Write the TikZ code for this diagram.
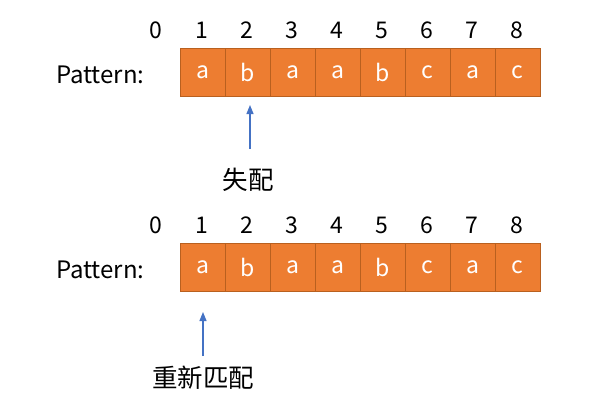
\documentclass[tikz,border=0pt]{standalone}
\usepackage{fontspec}
\setmainfont{Noto Sans CJK SC}
\usepackage{xcolor}
\usetikzlibrary{arrows.meta}
\definecolor{cellfill}{HTML}{ED7D31}
\definecolor{celledge}{HTML}{B9601F}
\definecolor{arrowblue}{HTML}{4472C4}

\tikzset{
  cell/.style={draw=celledge,fill=cellfill,text=white,minimum width=45pt,minimum height=48pt,inner sep=0pt,font=\fontsize{23}{23}\selectfont},
  idx/.style={font=\fontsize{23}{23}\selectfont},
  lbl/.style={font=\fontsize{24}{24}\selectfont,anchor=east},
  note/.style={font=\fontsize{25.5}{25.5}\selectfont},
  pointer/.style={arrowblue,line width=1.2pt,-{Triangle[length=9pt,width=7pt]}}
}

\begin{document}
\begin{tikzpicture}[x=1pt,y=-1pt]
        \useasboundingbox (0,0) rectangle (604,405);
        % first pattern
        \node[lbl] (pat1) at (148,75) {Pattern:};
        \node[idx] (i0) at (156,30) {0};
        \node[idx] (i1) at (202,30) {1};
        \node[idx] (i2) at (247,30) {2};
        \node[idx] (i3) at (292,30) {3};
        \node[idx] (i4) at (337,30) {4};
        \node[idx] (i5) at (382,30) {5};
        \node[idx] (i6) at (427,30) {6};
        \node[idx] (i7) at (472,30) {7};
        \node[idx] (i8) at (517,30) {8};
        \node[cell] (c1) at (202.5,72) {a};
        \node[cell] (c2) at (247.5,72) {b};
        \node[cell] (c3) at (292.5,72) {a};
        \node[cell] (c4) at (337.5,72) {a};
        \node[cell] (c5) at (382.5,72) {b};
        \node[cell] (c6) at (427.5,72) {c};
        \node[cell] (c7) at (472.5,72) {a};
        \node[cell] (c8) at (517.5,72) {c};
        \node[note] (miss) at (248,180) {失配};
        \coordinate (misstail) at (250,149);
        \coordinate (misstip) at (250,105);
        \draw[pointer] (misstail) -- (misstip);
        % second pattern
        \node[lbl] (pat2) at (148,270) {Pattern:};
        \node[idx] (j0) at (156,225) {0};
        \node[idx] (j1) at (202,225) {1};
        \node[idx] (j2) at (247,225) {2};
        \node[idx] (j3) at (292,225) {3};
        \node[idx] (j4) at (337,225) {4};
        \node[idx] (j5) at (382,225) {5};
        \node[idx] (j6) at (427,225) {6};
        \node[idx] (j7) at (472,225) {7};
        \node[idx] (j8) at (517,225) {8};
        \node[cell] (d1) at (202.5,267) {a};
        \node[cell] (d2) at (247.5,267) {b};
        \node[cell] (d3) at (292.5,267) {a};
        \node[cell] (d4) at (337.5,267) {a};
        \node[cell] (d5) at (382.5,267) {b};
        \node[cell] (d6) at (427.5,267) {c};
        \node[cell] (d7) at (472.5,267) {a};
        \node[cell] (d8) at (517.5,267) {c};
        \node[note] (rematch) at (203,378) {重新匹配};
        \coordinate (retail) at (203,356);
        \coordinate (retip) at (203,312);
        \draw[pointer] (retail) -- (retip);
\end{tikzpicture}
\end{document}
